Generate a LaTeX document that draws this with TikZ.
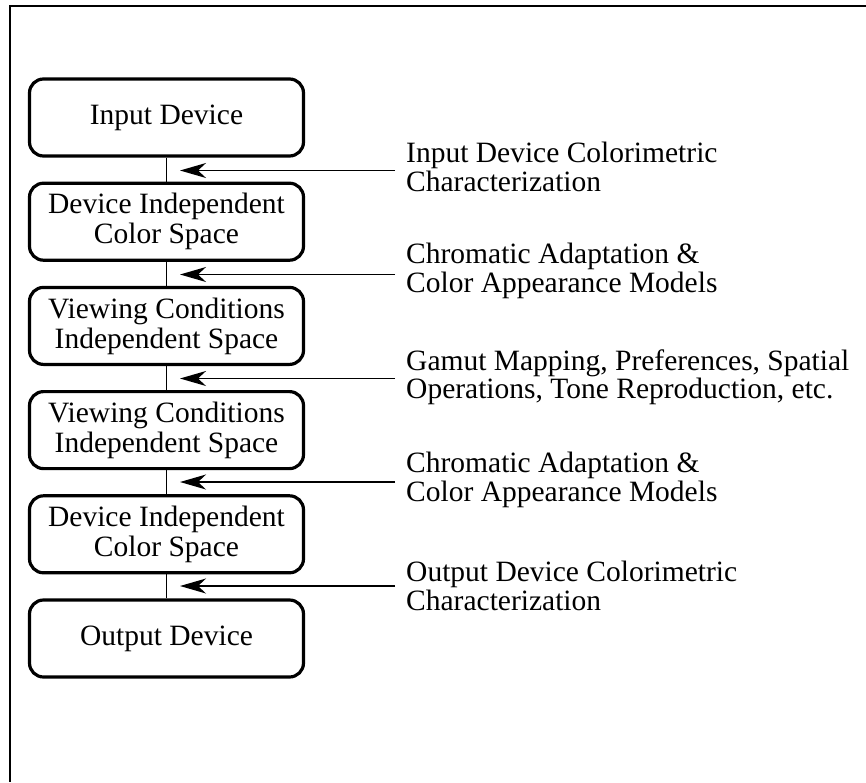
\documentclass[tikz,border=0pt]{standalone}
\usepackage{fontspec}
\setmainfont{Liberation Serif}
\usetikzlibrary{arrows.meta}

\begin{document}
\begin{tikzpicture}[x=1pt,y=-1pt]
\tikzstyle{every node}+=[inner sep=0pt]
\tikzstyle{stage}=[draw=black, line width=3.2pt, rounded corners=14pt, minimum width=274pt, minimum height=77pt, align=center, font=\fontsize{29.5}{30}\selectfont]
\tikzstyle{note}=[anchor=west, align=left, font=\fontsize{29.5}{28.5}\selectfont]
\tikzstyle{link}=[black, line width=1.5pt]
\tikzstyle{feed}=[black, line width=1.5pt, -{Stealth[length=26pt, width=15pt, inset=8pt]}]
\useasboundingbox (0,0) rectangle (866,782);
% frame
\draw [black, line width=2.2pt] (866,6) -- (10,6) -- (10,782);
% stages
\node [stage] (in) at (166.5,117.5) {Input Device};
\node [stage] (dic1) at (166.5,221.7) {Device Independent\\Color Space};
\node [stage] (vci1) at (166.5,325.9) {Viewing Conditions\\Independent Space};
\node [stage] (vci2) at (166.5,430.1) {Viewing Conditions\\Independent Space};
\node [stage] (dic2) at (166.5,534.3) {Device Independent\\Color Space};
\node [stage] (out) at (166.5,638.5) {Output Device};
\draw [link] (in) -- (dic1);
\draw [link] (dic1) -- (vci1);
\draw [link] (vci1) -- (vci2);
\draw [link] (vci2) -- (dic2);
\draw [link] (dic2) -- (out);
% transforms
\coordinate (t1) at (395,170.5);
\coordinate (j1) at (180,170.5);
\coordinate (t2) at (395,274.5);
\coordinate (j2) at (180,274.5);
\coordinate (t3) at (395,378.5);
\coordinate (j3) at (180,378.5);
\coordinate (t4) at (395,482);
\coordinate (j4) at (180,482);
\coordinate (t5) at (395,586);
\coordinate (j5) at (180,586);
\draw [feed] (t1) -- (j1);
\draw [feed] (t2) -- (j2);
\draw [feed] (t3) -- (j3);
\draw [feed] (t4) -- (j4);
\draw [feed] (t5) -- (j5);
\node [note] (n1) at (406,167) {Input Device Colorimetric\\Characterization};
\node [note] (n2) at (406,271) {Chromatic Adaptation \&\\Color Appearance Models};
\node [note] (n3) at (406,377) {Gamut Mapping, Preferences, Spatial\\Operations, Tone Reproduction, etc.};
\node [note] (n4) at (406,480) {Chromatic Adaptation \&\\Color Appearance Models};
\node [note] (n5) at (406,586) {Output Device Colorimetric\\Characterization};
\end{tikzpicture}
\end{document}
